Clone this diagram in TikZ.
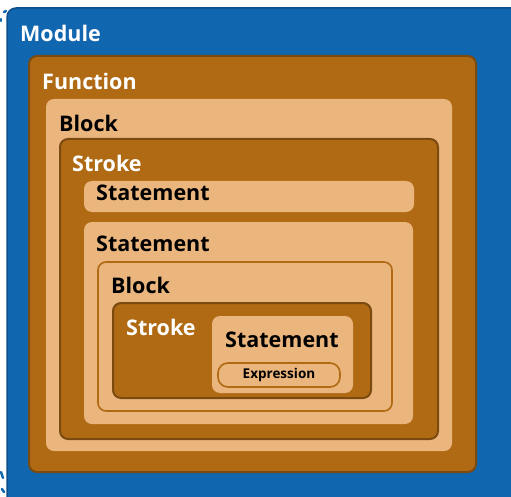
\documentclass[tikz,border=0pt]{standalone}
\usepackage{fontspec}
\setmainfont{Open Sans}
\begin{document}
\begin{tikzpicture}[x=1pt,y=-1pt,
  blueb/.style={fill=modblue, draw=modblueD, line width=1.5pt, rounded corners=9pt},
  brownb/.style={fill=brownC, draw=brownD, line width=2pt, rounded corners=8pt},
  lightb/.style={fill=lightC, draw=none, rounded corners=8pt},
  lightlined/.style={fill=lightC, draw=brownC, line width=1.6pt, rounded corners=8pt},
  mark/.style={},
  bluemark/.style={draw=modblue, line width=2.5pt, line cap=round},
  wlab/.style={anchor=west, inner sep=0pt, text=white, font=\fontsize{21.5}{21.5}\selectfont\bfseries, text depth=0pt},
  blab/.style={anchor=west, inner sep=0pt, text=black, font=\fontsize{21.5}{21.5}\selectfont\bfseries, text depth=0pt}
]
\definecolor{modblue}{HTML}{1166B0}
\definecolor{modblueD}{HTML}{0E4F8A}
\definecolor{brownC}{HTML}{B06A14}
\definecolor{brownD}{HTML}{7A4A10}
\definecolor{lightC}{HTML}{EBB57E}
\useasboundingbox (0,0) rectangle (511,497);
% module
\path[blueb] (7,8) rectangle (525,511);
\path[bluemark] (4,12) -- (6,11);
\path[bluemark] (1,19) -- (1,21);
\path[bluemark] (1,472) -- (3,478);
\path[bluemark] (2,489) -- (4,492);
\node[wlab] (tmodule) at (20,33) {Module};
% function
\path[brownb] (29,56) rectangle (476,472);
\node[wlab] (tfunc) at (42,81) {Function};
% block
\path[lightb] (46,99) rectangle (452,451);
\node[blab] (tblock) at (59,123) {Block};
% stroke
\path[brownb] (60,139) rectangle (438,439);
\node[wlab] (tstroke) at (72,163) {Stroke};
% statement 1
\path[lightb] (84,181) rectangle (414,212);
\node[blab] (tst1) at (96,193) {Statement};
% statement 2
\path[lightb] (84,222) rectangle (413,424);
\node[blab] (tst2) at (96,244) {Statement};
% block 2
\path[lightlined] (98,262) rectangle (392,411);
\node[blab] (tblock2) at (111,285) {Block};
% stroke 2
\path[brownb] (113,303) rectangle (371,398);
\node[wlab] (tstroke2) at (126,327) {Stroke};
% statement 3
\path[lightb] (212,316) rectangle (353,393);
\node[blab] (tst3) at (225,340) {Statement};
% expression
\node[draw=brownC, fill=lightC, line width=1.6pt, rounded corners=10pt,
  minimum width=122pt, minimum height=24pt, inner sep=0pt,
  font=\fontsize{13.5}{13.5}\selectfont\bfseries] (expr) at (279,375) {Expression};
\end{tikzpicture}
\end{document}
